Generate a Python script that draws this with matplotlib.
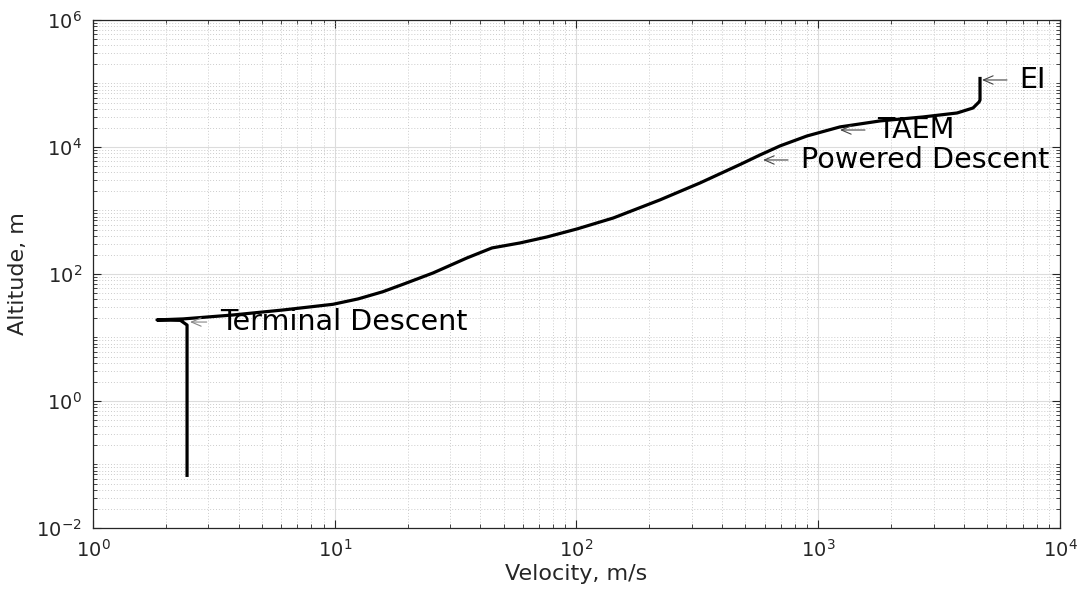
import numpy as np
import matplotlib
matplotlib.use("Agg")
import matplotlib.pyplot as plt
from matplotlib.ticker import FixedLocator, LogLocator, LogFormatterSciNotation, NullFormatter

# Trajectory (velocity m/s, altitude m), from entry to touchdown
velocity = [4667, 4667, 4624, 4365, 3750, 2712, 1800, 1230, 898, 695, 574, 475,
            324, 221, 142, 100.5, 75.5, 58.4, 44.7, 35.2, 25.5, 19.5, 15.8, 12.5, 9.83,
            6.11, 3.79, 2.36, 1.84, 2.3, 2.45, 2.45]
altitude = [1.27e5, 5.5e4, 5.11e4, 4.11e4, 3.43e4, 2.97e4, 2.57e4, 2.07e4, 1.49e4, 1.04e4,
            7480, 5300, 2710, 1463, 762, 512, 383, 308, 257, 178.6, 103.7, 70.5, 52.5, 40.5,
            33.3, 27.1, 22.6, 19.6, 18.9, 18.6, 15.7, 0.0636]

# Event annotations: label, velocity, altitude of arrow head
event_labels = ["EI", "TAEM", "Powered Descent", "Terminal Descent"]
event_velocity = [4755, 1230, 591, 2.52]
event_altitude = [1.135e5, 1.85e4, 6240, 17.5]

xticks = [1e0, 1e1, 1e2, 1e3, 1e4]
yticks = [1e-2, 1e0, 1e2, 1e4, 1e6]

dark = "#262626"
fig = plt.figure(figsize=(10.81, 5.98), dpi=100)
ax = fig.add_axes([0.0860, 0.1171, 0.8946, 0.8495])
ax.set_xscale("log")
ax.set_yscale("log")
ax.set_xlim(1e0, 1e4)
ax.set_ylim(1e-2, 1e6)

ax.plot(velocity, altitude, color="black", lw=2.3, solid_joinstyle="round",
        solid_capstyle="butt", zorder=3)

arrow_len = [18, 18, 18, 12]
text_off = [27, 27, 27, 22]
arrow_col = ["#444444", "#444444", "#444444", "#888888"]
for lab, vx, vy, al, to, ac in zip(event_labels, event_velocity, event_altitude,
                                   arrow_len, text_off, arrow_col):
    ax.annotate("", xy=(vx, vy), xytext=(al, 0), textcoords="offset points",
                arrowprops=dict(arrowstyle="->,head_length=0.7,head_width=0.3",
                                color=ac, lw=0.8, shrinkA=0, shrinkB=0), zorder=4)
    ax.annotate(lab, xy=(vx, vy), xytext=(to, 0), textcoords="offset points",
                fontsize=20.6, color="black", va="center", ha="left", zorder=4)

ax.xaxis.set_major_locator(FixedLocator(xticks))
ax.yaxis.set_major_locator(FixedLocator(yticks))
ax.xaxis.set_major_formatter(LogFormatterSciNotation())
ax.yaxis.set_major_formatter(LogFormatterSciNotation())
ax.xaxis.set_minor_locator(LogLocator(base=10, subs=np.arange(1, 10), numticks=100))
ax.yaxis.set_minor_locator(LogLocator(base=10, subs=np.arange(1, 10), numticks=100))
ax.xaxis.set_minor_formatter(NullFormatter())
ax.yaxis.set_minor_formatter(NullFormatter())

ax.grid(True, which="major", color="#dcdcdc", lw=0.8, ls="-")
ax.grid(True, which="minor", color="#cccccc", lw=0.7, ls=(0, (1, 2)))
ax.set_axisbelow(True)

ax.tick_params(which="both", direction="in", top=True, right=True, colors=dark,
               labelsize=14, labelcolor=dark)
ax.tick_params(which="major", length=6, width=0.8, pad=8)
ax.tick_params(which="minor", length=3, width=0.6)
for s in ax.spines.values():
    s.set_color(dark)
    s.set_linewidth(0.9)

ax.set_xlabel("Velocity, m/s", fontsize=16, color=dark, labelpad=2)
ax.set_ylabel("Altitude, m", fontsize=16, color=dark, labelpad=6)

fig.savefig("out.png", dpi=100)
